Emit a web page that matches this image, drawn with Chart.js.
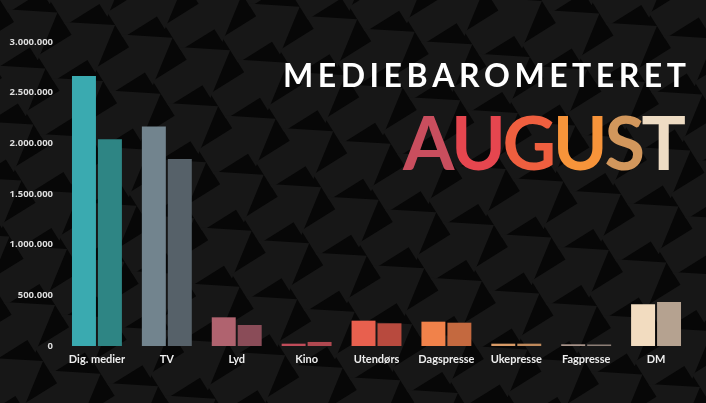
<!DOCTYPE html>
<html>
<head>
<meta charset="utf-8">
<script src="https://cdn.jsdelivr.net/npm/chart.js@4"></script>
<style>
  html, body { margin: 0; padding: 0; background: #0a0a0a; }
</style>
</head>
<body>
<canvas id="chart" width="706" height="403"></canvas>
<script>
// data
const categories = ['Dig. medier', 'TV', 'Lyd', 'Kino', 'Utendørs', 'Dagspresse', 'Ukepresse', 'Fagpresse', 'DM'];
const seriesA = [2665000, 2165000, 283000, 23000, 250000, 240000, 23000, 17000, 412000];
const seriesB = [2040000, 1846000, 207000, 40000, 224000, 230000, 23000, 15000, 434000];
const yTicks = [0, 500000, 1000000, 1500000, 2000000, 2500000, 3000000];

const colorsA = ['#3aaab0', '#72848e', '#b0636f', '#c04c5a', '#e8604e', '#f1824a', '#d89a66', '#a8948a', '#f2dcc0'];
const colorsB = ['#2e8584', '#566169', '#8a4c58', '#b04850', '#b84a3e', '#c4693f', '#c08a5c', '#8c7e76', '#b5a290'];

const titleTop = 'MEDIEBAROMETERET';
const titleBig = 'AUGUST';
const bigColors = ['#c94e5e', '#e6464f', '#ef5f3f', '#f7943a', '#d2975c', '#eedcc4'];

function fmt(v) {
  return String(v).replace(/\B(?=(\d{3})+(?!\d))/g, '.');
}

// dark background, grey arrows pointing up-right
const bgPlugin = {
  id: 'bg',
  beforeDraw(chart) {
    const ctx = chart.ctx;
    const w = chart.width, h = chart.height;
    ctx.save();
    ctx.fillStyle = '#070707';
    ctx.fillRect(0, 0, w, h);
    const ang = -32 * Math.PI / 180;
    const d = [Math.cos(ang), Math.sin(ang)], n = [-Math.sin(ang), Math.cos(ang)];
    const L = 42, W = 30, S = 15, M = 40;
    ctx.fillStyle = '#171717';
    for (let i = -12; i < 20; i++) {
      for (let j = -12; j < 20; j++) {
        const tx = i * 82 * d[0] + j * -12 + 0;
        const ty = i * 82 * d[1] + j * 56 + 0;
        if (tx < -40 || tx > w + 120 || ty < -60 || ty > h + 120) continue;
        const bx = tx - L * d[0], by = ty - L * d[1];
        const p = (u, v) => [bx + u * d[0] + v * n[0], by + u * d[1] + v * n[1]];
        const pts = [p(L, 0), p(0, W), p(0, S), p(-M, S), p(-M, -S), p(0, -S), p(0, -W)];
        ctx.beginPath();
        ctx.moveTo(pts[0][0], pts[0][1]);
        for (let k = 1; k < pts.length; k++) ctx.lineTo(pts[k][0], pts[k][1]);
        ctx.closePath();
        ctx.fill();
      }
    }
    ctx.restore();
  }
};

// heading text
const titlePlugin = {
  id: 'heading',
  afterDraw(chart) {
    const ctx = chart.ctx;
    ctx.save();
    ctx.textBaseline = 'alphabetic';
    ctx.textAlign = 'left';

    ctx.font = 'bold 32px Lato';
    ctx.fillStyle = '#ffffff';
    const left1 = 283, right1 = 686;
    const widths = titleTop.split('').map(ch => ctx.measureText(ch).width);
    const total = widths.reduce((a, b) => a + b, 0);
    const gap = (right1 - left1 - total) / (titleTop.length - 1);
    let x = left1;
    titleTop.split('').forEach((ch, i) => {
      ctx.fillText(ch, x, 87);
      x += widths[i] + gap;
    });

    ctx.font = 'bold 74px Lato';
    const left2 = 403, right2 = 686;
    const w2 = titleBig.split('').map(ch => ctx.measureText(ch).width);
    const t2 = w2.reduce((a, b) => a + b, 0);
    const gap2 = (right2 - left2 - t2) / (titleBig.length - 1);
    x = left2;
    titleBig.split('').forEach((ch, i) => {
      ctx.fillStyle = bigColors[i];
      ctx.fillText(ch, x, 170);
      x += w2[i] + gap2;
    });
    ctx.restore();
  }
};

new Chart(document.getElementById('chart').getContext('2d'), {
  type: 'bar',
  data: {
    labels: categories,
    datasets: [{
      label: 'A',
      data: seriesA,
      backgroundColor: colorsA,
      borderWidth: 0
    }, {
      label: 'B',
      data: seriesB,
      backgroundColor: colorsB,
      borderWidth: 0
    }]
  },
  options: {
    responsive: false,
    animation: false,
    datasets: {
      bar: { categoryPercentage: 0.743, barPercentage: 0.923 }
    },
    layout: { padding: { top: 42, right: 15, bottom: 0, left: 0 } },
    plugins: {
      legend: { display: false },
      tooltip: { enabled: false }
    },
    scales: {
      x: {
        grid: { display: false, drawTicks: false },
        border: { display: false },
        ticks: {
          color: '#eeeeee',
          font: { family: 'Lato', size: 11, weight: 'bold' },
          padding: 7,
          maxRotation: 0,
          autoSkip: false
        },
        afterFit(scale) { scale.height = 57; }
      },
      y: {
        min: 0,
        max: 3000000,
        grid: { display: false, drawTicks: false },
        border: { display: false },
        afterBuildTicks(scale) { scale.ticks = yTicks.map(v => ({ value: v })); },
        ticks: {
          color: '#dddddd',
          font: { family: 'Open Sans', size: 9.5, weight: 'bold' },
          padding: 9,
          callback: v => fmt(v)
        },
        afterFit(scale) { scale.width = 62; }
      }
    }
  },
  plugins: [bgPlugin, titlePlugin]
});
</script>
</body>
</html>
